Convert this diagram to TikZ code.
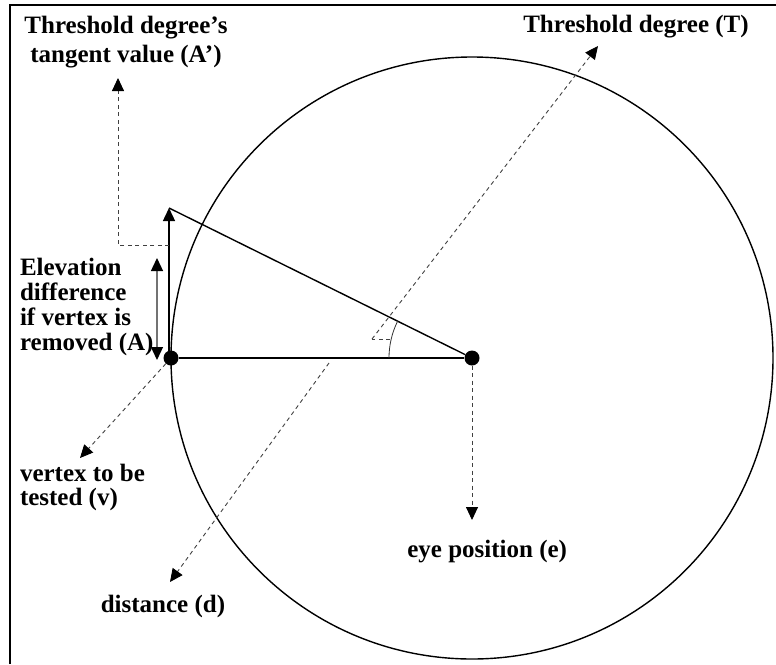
\documentclass[tikz,border=0pt]{standalone}
\usepackage{fontspec}
\setmainfont{Liberation Serif}
\usetikzlibrary{arrows.meta}
\begin{document}
\begin{tikzpicture}[x=1pt,y=-1pt,
  lbl/.style={font=\fontsize{25}{29}\selectfont\bfseries, inner sep=0pt, outer sep=0pt},
  solidline/.style={line width=1.4pt, draw=black},
  dashline/.style={line width=0.9pt, draw=black!75, dash pattern=on 4pt off 3.5pt},
  ptr/.style={dashline, -{Triangle[length=13pt,width=12pt,color=black]}},
  dot/.style={circle, fill=black, inner sep=0pt, minimum size=15pt},
  frameline/.style={line width=1.5pt, draw=black}
]
\useasboundingbox (0,0) rectangle (776,664);
% frame
\draw[frameline] (10,664) -- (10,5) -- (776,5);
% circle
\coordinate (c) at (472,358);
\draw[line width=1.4pt] (c) circle[radius=301];
% main points
\node[dot] (v) at (171,358) {};
\node[dot] (e) at (472,358) {};
\coordinate (top) at (169,208);
\coordinate (vb) at (169,358);
\draw[solidline] (v) -- (e);
\draw[solidline, -{Triangle[length=13pt,width=12pt,color=black]}] (vb) -- (top);
\draw[solidline] (top) -- (e);
% angle arc
\draw[line width=0.8pt, draw=black!80] (e) ++(180:83) arc[start angle=180, end angle=206.3, radius=83];
% tangent value pointer
\coordinate (tb) at (169,245);
\coordinate (ta) at (118,78);
\draw[ptr] (tb) -| (ta);
% elevation difference double arrow
\coordinate (a1) at (157,258);
\coordinate (a2) at (157,360);
\draw[line width=1.3pt, draw=black!55, {Triangle[length=13pt,width=12pt,color=black]}-{Triangle[length=13pt,width=12pt,color=black]}] (a2) -- (a1);
% threshold degree pointer
\coordinate (t0) at (372,339);
\coordinate (t1) at (390,339);
\coordinate (tT) at (598,46);
\draw[dashline] (t1) -- (t0);
\draw[ptr] (t0) -- (tT);
% distance pointer
\coordinate (d0) at (329,363);
\coordinate (dT) at (170,582);
\draw[ptr] (d0) -- (dT);
% vertex pointer
\coordinate (vT) at (80,458);
\draw[ptr] (v) -- (vT);
% eye pointer
\coordinate (eT) at (472,520);
\draw[ptr] (e) -- (eT);
% labels
\node[lbl, anchor=base] (labA2) at (126,33) {\begin{tabular}[t]{@{}c@{}}Threshold degree's\\tangent value (A')\end{tabular}};
\node[lbl, anchor=base] (labT) at (636,32) {Threshold degree (T)};
\node[lbl, anchor=base west, font=\fontsize{25}{25}\selectfont\bfseries] (labA) at (20,275) {\begin{tabular}[t]{@{}l@{}}Elevation\\difference\\if vertex is\\removed (A)\end{tabular}};
\node[lbl, anchor=base west, font=\fontsize{25}{24}\selectfont\bfseries] (labV) at (20,481) {\begin{tabular}[t]{@{}l@{}}vertex to be\\tested (v)\end{tabular}};
\node[lbl, anchor=base] (labD) at (163,612) {distance (d)};
\node[lbl, anchor=base east] (labE) at (567,557) {eye position (e)};
\end{tikzpicture}
\end{document}
